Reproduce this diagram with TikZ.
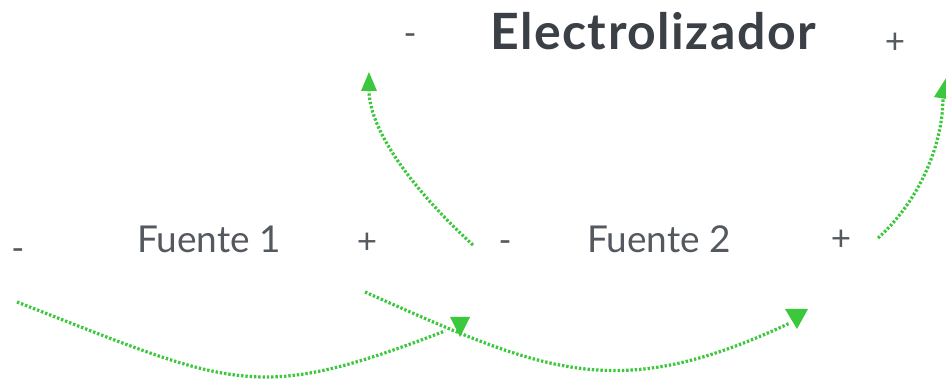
\documentclass[tikz,border=0pt]{standalone}
\usepackage{fontspec}
\setmainfont{Lato}
\newfontfamily\ttlfont[LetterSpace=3]{Lato}
\definecolor{wire}{RGB}{60,200,60}
\definecolor{txt}{RGB}{84,89,95}
\definecolor{ttl}{RGB}{58,64,70}
\begin{document}
\begin{tikzpicture}[x=1pt,y=-1pt,
  lbl/.style={text=txt,font=\fontsize{37}{42}\selectfont,inner sep=0pt,anchor=base},
  sgn/.style={text=txt,font=\fontsize{35}{40}\selectfont,inner sep=0pt},
  ttlstyle/.style={text=ttl,font=\ttlfont\fontsize{50}{54}\selectfont\bfseries,inner sep=0pt,anchor=base},
  wirestyle/.style={draw=wire,line width=3.2pt,dash pattern=on 2.4pt off 1.9pt},
  headstyle/.style={fill=wire}]
\useasboundingbox (0,0) rectangle (946,382);
% labels
\node[sgn] (em) at (410,40) {-};
\node[ttlstyle] (el) at (653,50) {Electrolizador};
\node[sgn] (ep) at (895,43) {+};
\node[sgn] (f1m) at (18,255) {-};
\node[lbl] (f1) at (209,253) {Fuente 1};
\node[sgn] (f1p) at (367,243) {+};
\node[sgn] (f2m) at (505,247) {-};
\node[lbl] (f2) at (659,253) {Fuente 2};
\node[sgn] (f2p) at (841,240) {+};
% connector ends
\coordinate (a0) at (17,302);
\coordinate (a1) at (445,331);
\coordinate (b0) at (365,292);
\coordinate (b1) at (790,323);
\coordinate (c0) at (473,245);
\coordinate (c1) at (369,72);
\coordinate (c2) at (369,90);
\coordinate (d0) at (878,238);
\coordinate (d1) at (948,75);
\coordinate (d2) at (943,97);
% connectors
\path[wirestyle] (a0) .. controls (235,387) and (255,404) .. (a1);
\path[wirestyle] (b0) .. controls (545,372) and (615,405) .. (b1);
\path[wirestyle] (c0) .. controls (413,190) and (369,130) .. (c2);
\fill[headstyle] (c1) -- (361,91) -- (377,91) -- cycle;
\path[wirestyle] (d0) .. controls (915,205) and (943,150) .. (d2);
\fill[headstyle] (d1) -- (934,97) -- (952,100) -- cycle;
% heads of lower connectors
\fill[headstyle] (460,337) -- ++(-10,-20) -- ++(20,0) -- cycle;
\fill[headstyle] (797,329) -- ++(-12,-20) -- ++(23,0) -- cycle;
\end{tikzpicture}
\end{document}
